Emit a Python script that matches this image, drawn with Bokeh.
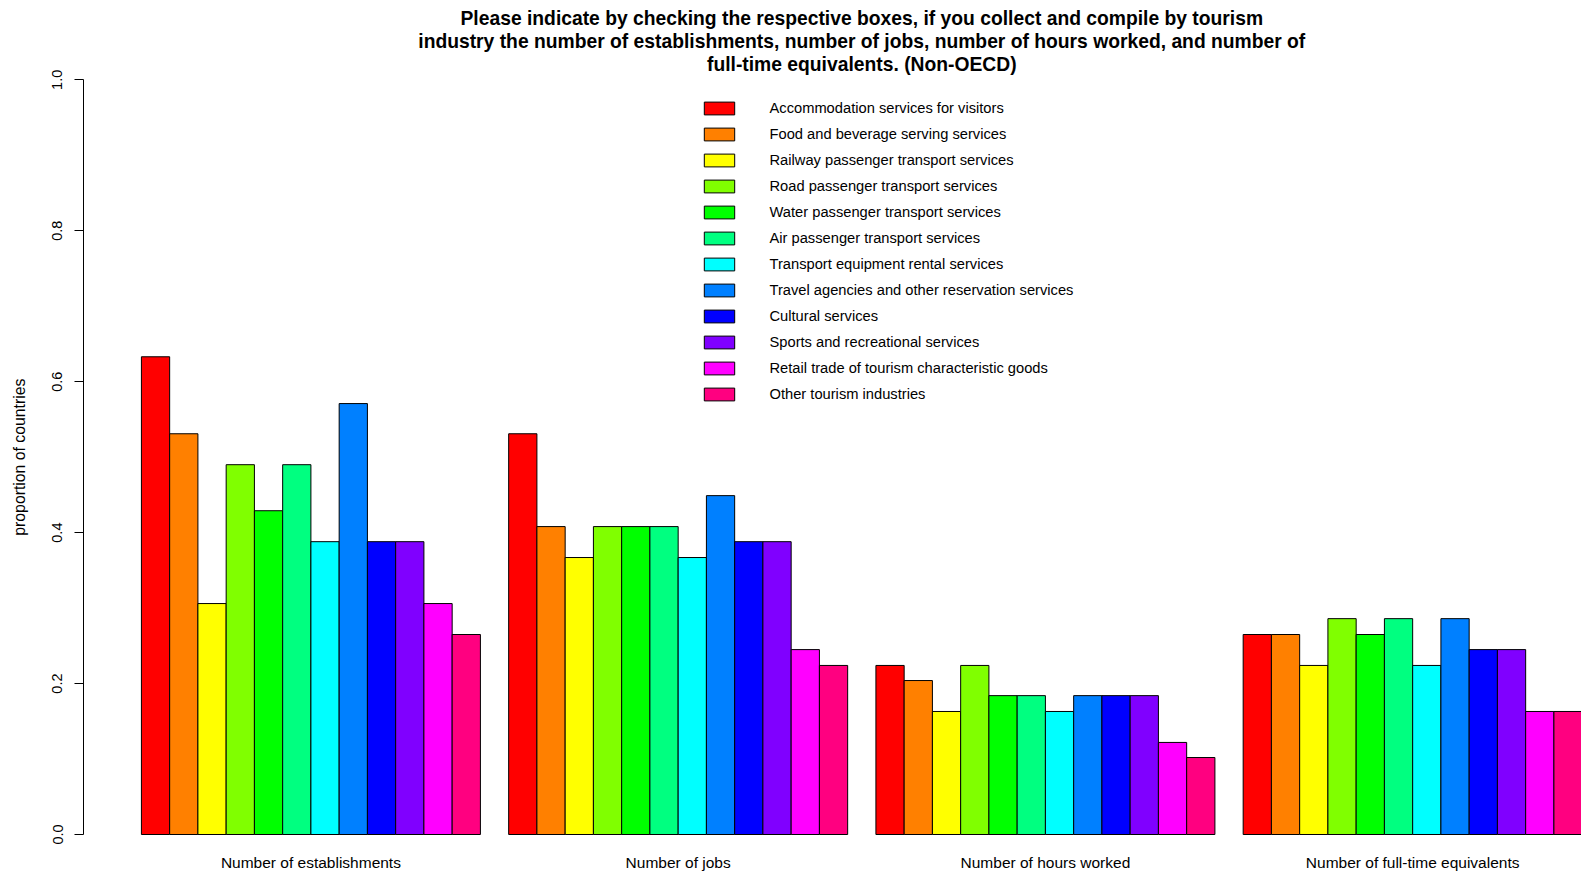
import math
from bokeh.plotting import figure
from bokeh.layouts import row
from bokeh.models import (ColumnDataSource, Range1d, FixedTicker, PrintfTickFormatter,
                          Legend, LegendItem, Label)
from bokeh.embed import file_html
from bokeh.resources import INLINE

# ---------------- data ----------------
measures = ["Number of establishments", "Number of jobs",
            "Number of hours worked", "Number of full-time equivalents"]
industries = [
    "Accommodation services for visitors",
    "Food and beverage serving services",
    "Railway passenger transport services",
    "Road passenger transport services",
    "Water passenger transport services",
    "Air passenger transport services",
    "Transport equipment rental services",
    "Travel agencies and other reservation services",
    "Cultural services",
    "Sports and recreational services",
    "Retail trade of tourism characteristic goods",
    "Other tourism industries",
]
colors = ["#FF0000", "#FF8000", "#FFFF00", "#80FF00", "#00FF00", "#00FF80",
          "#00FFFF", "#0080FF", "#0000FF", "#8000FF", "#FF00FF", "#FF0080"]

establishments = [0.633, 0.531, 0.306, 0.490, 0.429, 0.490, 0.388, 0.571, 0.388, 0.388, 0.306, 0.265]
jobs = [0.531, 0.408, 0.367, 0.408, 0.408, 0.408, 0.367, 0.449, 0.388, 0.388, 0.245, 0.224]
hours_worked = [0.224, 0.204, 0.163, 0.224, 0.184, 0.184, 0.163, 0.184, 0.184, 0.184, 0.122, 0.102]
full_time_eq = [0.265, 0.265, 0.224, 0.286, 0.265, 0.286, 0.224, 0.286, 0.245, 0.245, 0.163, 0.163]
series = [establishments, jobs, hours_worked, full_time_eq]

y_ticks = [0.0, 0.2, 0.4, 0.6, 0.8, 1.0]
y_label = "proportion of countries"
title_lines = [
    "Please indicate by checking the respective boxes, if you collect and compile by tourism",
    "industry the number of establishments, number of jobs, number of hours worked, and number of",
    "full-time equivalents. (Non-OECD)",
]

# ---------------- layout helpers ----------------
W, H = 1581, 873
SIDE_W = 37            # narrow strip holding the y-axis title
MAIN_W = W - SIDE_W
LEFT = 83 - SIDE_W     # so that the main frame starts at x = 83
BOTTOM = 29
frame_h = H - BOTTOM
frame_w = MAIN_W - LEFT
px_per_unit_y = 754.7
y_start = -(frame_h - 834) / px_per_unit_y
y_end = y_start + frame_h / px_per_unit_y
px_per_unit_x = 28.25
x_start = -1.05
x_end = x_start + frame_w / px_per_unit_x
x_mid_region = (x_start + 54.05) / 2  # centre of the (wider) R plot region

n_ind = len(industries)
group_step = n_ind + 1  # one empty bar slot between groups


def px_to_y(canvas_y):
    return y_end - canvas_y / px_per_unit_y


FONT = "Liberation Sans"

p = figure(width=MAIN_W, height=H, output_backend="svg", toolbar_location=None,
           x_range=Range1d(x_start, x_end), y_range=Range1d(y_start, y_end),
           min_border_left=LEFT, min_border_right=0, min_border_top=0,
           min_border_bottom=BOTTOM)
p.outline_line_color = None
p.xgrid.visible = False
p.ygrid.visible = False
p.background_fill_color = "white"
p.border_fill_color = "white"

items = []
for i, name in enumerate(industries):
    xs = [1 + group_step * g + i + 0.5 for g in range(len(measures))]
    tops = [series[g][i] for g in range(len(measures))]
    src = ColumnDataSource(dict(x=xs, top=tops))
    r = p.vbar(x="x", top="top", bottom=0, width=1.0, source=src,
               fill_color=colors[i], line_color="black", line_width=1)
    items.append(LegendItem(label=name, renderers=[r]))

legend = Legend(items=items, location=(616.5, frame_h - 402), padding=0, margin=0,
                border_line_color=None, background_fill_alpha=0,
                glyph_width=38, glyph_height=16, label_height=16, spacing=10,
                label_standoff=32, label_text_font=FONT,
                label_text_font_size="14.7px", label_text_color="black")
p.add_layout(legend, "center")

# y axis
ya = p.yaxis[0]
ya.bounds = (0, 1)
ya.ticker = FixedTicker(ticks=y_ticks)
ya.formatter = PrintfTickFormatter(format="%.1f")
ya.minor_tick_line_color = None
ya.major_tick_in = 0
ya.major_tick_out = 9
ya.major_tick_line_color = "black"
ya.axis_line_color = "black"
ya.major_label_orientation = "vertical"
ya.major_label_standoff = 12
ya.major_label_text_font = FONT
ya.major_label_text_font_size = "14.5px"
ya.major_label_text_color = "black"

# x axis (category names under each group)
xa = p.xaxis[0]
centers = [1 + group_step * g + n_ind / 2 for g in range(len(measures))]
xa.ticker = FixedTicker(ticks=centers)
xa.major_label_overrides = {c: m for c, m in zip(centers, measures)}
xa.axis_line_color = None
xa.major_tick_line_color = None
xa.major_tick_out = 0
xa.major_tick_in = 0
xa.minor_tick_line_color = None
xa.minor_tick_out = 0
xa.major_label_standoff = 9
xa.major_label_text_font = FONT
xa.major_label_text_font_size = "15.5px"
xa.major_label_text_color = "black"

# title (centred on the full R plot region)
for k, line in enumerate(title_lines):
    p.add_layout(Label(x=x_mid_region, y=px_to_y(18.3 + 22.7 * k), text=line,
                       text_align="center", text_baseline="middle",
                       text_font=FONT, text_font_style="bold",
                       text_font_size="19.3px", text_color="black"))

# narrow side strip carrying the y-axis title, centred on the 0..1 span
side = figure(width=SIDE_W, height=H, output_backend="svg", toolbar_location=None,
              x_range=Range1d(-1, 1), y_range=Range1d(y_start, y_end),
              x_axis_location=None, y_axis_location=None,
              min_border_left=0, min_border_right=0, min_border_top=0,
              min_border_bottom=BOTTOM)
side.outline_line_color = None
side.xgrid.visible = False
side.ygrid.visible = False
side.add_layout(Label(x=0, y=(y_ticks[0] + y_ticks[-1]) / 2, text=y_label,
                      angle=math.pi / 2, text_align="center", text_baseline="middle",
                      text_font=FONT, text_font_size="15.8px", text_color="black"))

layout = row(side, p, spacing=0)
open("out.html", "w").write(file_html(layout, INLINE))
